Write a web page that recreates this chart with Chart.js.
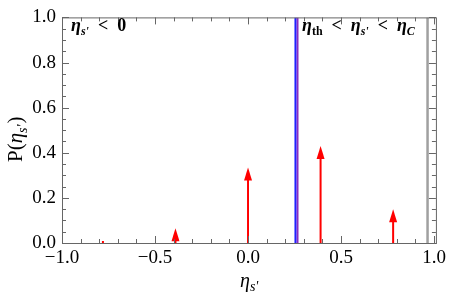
<!DOCTYPE html>
<html>
<head>
<meta charset="utf-8">
<script src="https://cdn.jsdelivr.net/npm/chart.js@4.4.0/dist/chart.umd.min.js"></script>
<style>
  html, body { margin: 0; padding: 0; background: #fff; }
  #wrap { width: 450px; height: 301px; }
</style>
</head>
<body>
<div id="wrap"><canvas id="chart" width="450" height="301"></canvas></div>
<script>
// Tick labels
const xTicks = [-1, -0.5, 0, 0.5, 1];
const yTicks = [0, 0.2, 0.4, 0.6, 0.8, 1.0];

// Arrow (delta peak) positions and weights
const peakEta = [-0.78, -0.39, 0, 0.39, 0.78];
const peakP = [0.004, 0.065, 0.335, 0.43, 0.15];

// Vertical marker lines
const etaTh = 0.255;
const etaThPurple = 0.266;
const etaC = 0.965;

const serif = '"Liberation Serif", "DejaVu Serif", serif';
const frameColor = '#666';

function fmt(v) {
  const s = Math.abs(v).toFixed(1);
  return v < 0 ? '\u2212' + s : s;
}

function vline(x, color, width) {
  return {
    type: 'scatter',
    data: [{ x: x, y: 0 }, { x: x, y: 1 }],
    showLine: true,
    borderColor: color,
    borderWidth: width,
    pointRadius: 0
  };
}

// Frame with inward ticks, like a Mathematica frame
const framePlugin = {
  id: 'frame',
  afterDraw(chart) {
    const { ctx, chartArea: a, scales } = chart;
    const xs = scales.x, ys = scales.y;
    ctx.save();
    ctx.strokeStyle = frameColor;
    ctx.lineWidth = 1;
    ctx.strokeRect(a.left + 0.5, a.top + 0.5, a.right - a.left, a.bottom - a.top);
    ctx.beginPath();
    // x ticks: major every 0.5, minor every 0.1
    for (let i = -10; i <= 10; i++) {
      const v = i / 10;
      const px = Math.round(xs.getPixelForValue(v)) + 0.5;
      const len = (i % 5 === 0) ? 7 : 4;
      ctx.moveTo(px, a.bottom); ctx.lineTo(px, a.bottom - len);
      ctx.moveTo(px, a.top); ctx.lineTo(px, a.top + len);
    }
    // y ticks: major every 0.2, minor every 0.05
    for (let i = 0; i <= 20; i++) {
      const v = i / 20;
      const py = Math.round(ys.getPixelForValue(v)) + 0.5;
      const len = (i % 4 === 0) ? 7 : 4;
      ctx.moveTo(a.left, py); ctx.lineTo(a.left + len, py);
      ctx.moveTo(a.right, py); ctx.lineTo(a.right - len, py);
    }
    ctx.stroke();
    ctx.restore();
  }
};

// Red arrows for the peaks
const arrowPlugin = {
  id: 'arrows',
  afterDatasetsDraw(chart) {
    const { ctx, scales } = chart;
    ctx.save();
    ctx.strokeStyle = '#ff0000';
    ctx.fillStyle = '#ff0000';
    ctx.lineWidth = 2;
    peakEta.forEach((e, i) => {
      const px = scales.x.getPixelForValue(e);
      const y0 = scales.y.getPixelForValue(0);
      const y1 = scales.y.getPixelForValue(peakP[i]);
      const head = Math.min(13, y0 - y1);
      if (y0 - y1 > 4) {
        ctx.beginPath();
        ctx.moveTo(px, y0);
        ctx.lineTo(px, y1 + head * 0.8);
        ctx.stroke();
        ctx.beginPath();
        ctx.moveTo(px, y1);
        ctx.lineTo(px - 4, y1 + head);
        ctx.lineTo(px + 4, y1 + head);
        ctx.closePath();
        ctx.fill();
      } else {
        ctx.fillRect(px - 1, y0 - 2, 2, 2);
      }
    });
    ctx.restore();
  }
};

// Axis titles and region labels with subscripts
function etaSub(ctx, x, y, size, sub, bold) {
  const w = bold ? 'bold ' : '';
  ctx.font = 'italic ' + w + size + 'px ' + serif;
  ctx.fillText('\u03b7', x, y);
  const w1 = ctx.measureText('\u03b7').width;
  ctx.font = (sub.italic ? 'italic ' : '') + w + Math.round(size * 0.68) + 'px ' + serif;
  ctx.fillText(sub.text, x + w1, y + size * 0.22);
  return w1 + ctx.measureText(sub.text).width;
}

const labelPlugin = {
  id: 'labels',
  afterDraw(chart) {
    const { ctx, chartArea: a } = chart;
    ctx.save();
    ctx.fillStyle = '#000';
    ctx.textBaseline = 'alphabetic';
    ctx.textAlign = 'left';
    const s = { text: "s'", italic: true };

    // x axis title
    const cx = (a.left + a.right) / 2 - 9;
    etaSub(ctx, cx, 287, 20, s, false);

    // y axis title, rotated
    ctx.save();
    ctx.translate(22, 162);
    ctx.rotate(-Math.PI / 2);
    ctx.font = '21px ' + serif;
    ctx.fillText('P(', 0, 0);
    let x = ctx.measureText('P(').width;
    x += etaSub(ctx, x, 0, 21, s, false);
    ctx.font = '21px ' + serif;
    ctx.fillText(')', x + 1, 0);
    ctx.restore();

    // region labels
    const gap = '  <  ';
    let lx = 71;
    lx += etaSub(ctx, lx, 31, 18, s, true);
    ctx.font = 'bold 18px ' + serif;
    ctx.fillText(gap + '0', lx, 31);

    lx = 302;
    lx += etaSub(ctx, lx, 31, 18, { text: 'th', italic: false }, true);
    ctx.font = 'bold 18px ' + serif;
    ctx.fillText(gap, lx, 31);
    lx += ctx.measureText(gap).width;
    lx += etaSub(ctx, lx, 31, 18, s, true);
    ctx.font = 'bold 18px ' + serif;
    ctx.fillText(gap, lx, 31);
    lx += ctx.measureText(gap).width;
    etaSub(ctx, lx, 31, 18, { text: 'C', italic: true }, true);
    ctx.restore();
  }
};

new Chart(document.getElementById('chart'), {
  type: 'scatter',
  data: {
    datasets: [
      vline(etaTh, '#2020ff', 2),
      vline(etaThPurple, '#8a2cc0', 2),
      vline(etaC, '#a0a0a0', 2.5)
    ]
  },
  options: {
    responsive: false,
    animation: false,
    devicePixelRatio: 1,
    layout: { padding: { top: 11, right: 14, left: 0, bottom: 0 } },
    plugins: { legend: { display: false }, tooltip: { enabled: false } },
    scales: {
      x: {
        type: 'linear',
        min: -1,
        max: 1.01,
        afterBuildTicks: s => { s.ticks = xTicks.map(v => ({ value: v })); },
        afterFit: s => { s.height = 58; },
        grid: { display: false, drawTicks: false },
        border: { display: false },
        ticks: {
          color: '#000',
          font: { family: serif, size: 19 },
          padding: 4,
          maxRotation: 0,
          callback: v => fmt(v)
        }
      },
      y: {
        type: 'linear',
        min: 0,
        max: 1,
        afterBuildTicks: s => { s.ticks = yTicks.map(v => ({ value: v })); },
        afterFit: s => { s.width = 62; },
        grid: { display: false, drawTicks: false },
        border: { display: false },
        ticks: {
          color: '#000',
          font: { family: serif, size: 19 },
          padding: 6,
          callback: v => fmt(v)
        }
      }
    }
  },
  plugins: [framePlugin, arrowPlugin, labelPlugin]
});
</script>
</body>
</html>
